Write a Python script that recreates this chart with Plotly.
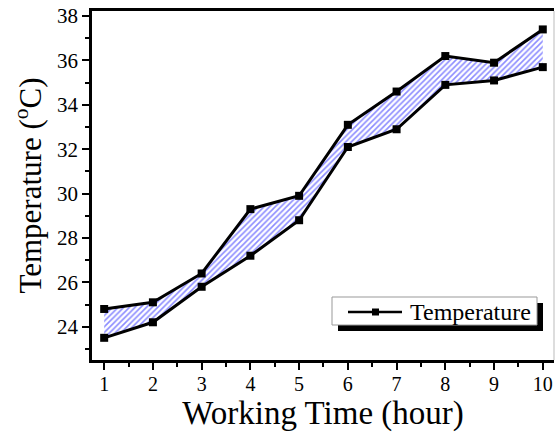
import plotly.graph_objects as go

hours = [1, 2, 3, 4, 5, 6, 7, 8, 9, 10]
temp_upper = [24.8, 25.1, 26.4, 29.3, 29.9, 33.1, 34.6, 36.2, 35.9, 37.4]
temp_lower = [23.5, 24.2, 25.8, 27.2, 28.8, 32.1, 32.9, 34.9, 35.1, 35.7]
x_ticks = [1, 2, 3, 4, 5, 6, 7, 8, 9, 10]
y_ticks = [24, 26, 28, 30, 32, 34, 36, 38]
legend_label = "Temperature"

FONT = "Liberation Serif"

fig = go.Figure()
fig.add_trace(go.Scatter(
    x=hours, y=temp_lower, mode="lines+markers",
    line=dict(color="black", width=3),
    marker=dict(symbol="square", size=8, color="black"),
    showlegend=False,
))
fig.add_trace(go.Scatter(
    x=hours, y=temp_upper, mode="lines+markers",
    line=dict(color="black", width=3),
    marker=dict(symbol="square", size=8, color="black"),
    fill="tonexty", fillcolor="rgba(0,0,0,0)",
    fillpattern=dict(shape="/", fgcolor="#1a1aff", bgcolor="white", size=4, solidity=0.4),
    name=legend_label, showlegend=False,
))

L, R, T, B = 92, 1, 11, 72
W, H = 555, 432
pw, ph = W - L - R, H - T - B

def px(xp):
    return (xp - L) / pw

def py(yp):
    return (H - B - yp) / ph

ly = py(312)
shapes = [
    # legend shadow
    dict(type="rect", xref="paper", yref="paper", x0=px(338), x1=px(543), y0=py(331), y1=py(303),
         fillcolor="black", line=dict(width=0), layer="above"),
    # legend box
    dict(type="rect", xref="paper", yref="paper", x0=px(332), x1=px(537), y0=py(325), y1=py(297),
         fillcolor="white", line=dict(color="#999999", width=1), layer="above"),
    # legend sample line
    dict(type="line", xref="paper", yref="paper", x0=px(348), x1=px(402), y0=ly, y1=ly,
         line=dict(color="black", width=2.5), layer="above"),
    # legend sample marker
    dict(type="rect", xref="paper", yref="paper", x0=px(372), x1=px(379), y0=py(315.5), y1=py(308.5),
         fillcolor="black", line=dict(width=0), layer="above"),
    # right border
    dict(type="line", xref="paper", yref="paper", x0=1, x1=1, y0=0, y1=1,
         line=dict(color="#bbbbbb", width=1)),
]

annotations = [
    dict(text=legend_label, xref="paper", yref="paper", x=px(408), y=ly,
         xanchor="left", yanchor="middle", showarrow=False,
         font=dict(family=FONT, size=24, color="black")),
]

fig.update_layout(
    width=W, height=H,
    margin=dict(l=L, r=R, t=T, b=B),
    paper_bgcolor="white", plot_bgcolor="white",
    font=dict(family=FONT, color="black"),
    shapes=shapes,
    annotations=annotations,
    showlegend=False,
    xaxis=dict(
        range=[0.75, 10.23], tickvals=x_ticks, ticks="outside", ticklen=7, tickwidth=2,
        tickcolor="black", showline=True, linecolor="black", linewidth=2.5, mirror=True,
        showgrid=False, zeroline=False, tickfont=dict(family=FONT, size=20),
        ticklabelstandoff=-3,
        minor=dict(dtick=0.5, tick0=0.5, ticks="outside", ticklen=4, tickwidth=2, tickcolor="black"),
        title=dict(text="Working Time (hour)", font=dict(family=FONT, size=33), standoff=3),
    ),
    yaxis=dict(
        range=[22.5, 38.23], tickvals=y_ticks, ticks="outside", ticklen=7, tickwidth=2,
        tickcolor="black", showline=True, linecolor="black", linewidth=2.5, mirror=False,
        showgrid=False, zeroline=False, tickfont=dict(family=FONT, size=21),
        minor=dict(dtick=1, tick0=23, ticks="outside", ticklen=4, tickwidth=2, tickcolor="black"),
        title=dict(text="Temperature (<sup>o</sup>C)", font=dict(family=FONT, size=31), standoff=7),
    ),
)

fig.write_html("out.html")
